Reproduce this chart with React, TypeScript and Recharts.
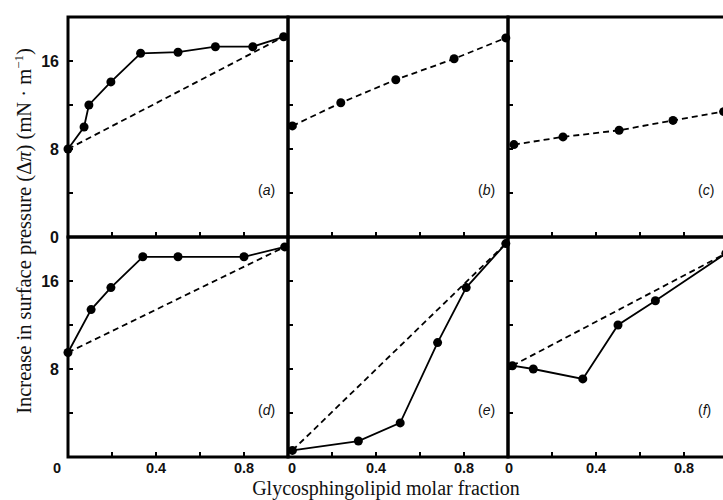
import React from "react";
import { LineChart, Line, XAxis, YAxis, ReferenceArea } from "recharts";

// ---------- data ----------
const aX = [0, 0.073, 0.095, 0.195, 0.33, 0.5, 0.67, 0.84, 0.98];
const aY = [8, 10, 12, 14.1, 16.7, 16.8, 17.3, 17.3, 18.2];
const bX = [0.02, 0.24, 0.49, 0.755, 0.99];
const bY = [10.1, 12.2, 14.3, 16.2, 18.1];
const cX = [0.027, 0.25, 0.505, 0.75, 0.98];
const cY = [8.4, 9.1, 9.7, 10.6, 11.4];
const dX = [0, 0.105, 0.195, 0.34, 0.5, 0.8, 0.985];
const dY = [9.5, 13.4, 15.4, 18.2, 18.2, 18.2, 19.1];
const eX = [0.02, 0.32, 0.51, 0.68, 0.81, 0.99];
const eY = [0.6, 1.45, 3.1, 10.4, 15.4, 19.4];
const fX = [0.02, 0.115, 0.34, 0.5, 0.67, 0.99];
const fY = [8.3, 8.0, 7.1, 12.0, 14.2, 18.5];

const xTicks = [0, 0.2, 0.4, 0.6, 0.8];
const yTicks = [0, 4, 8, 12, 16];
const xTickLabels: Record<string, string> = { "0": "0", "0.4": "0.4", "0.8": "0.8" };
const yTickLabelsTop: Record<string, string> = { "0": "0", "8": "8", "16": "16" };
const yTickLabelsBottom: Record<string, string> = { "8": "8", "16": "16" };
const panelLetters = ["a", "b", "c", "d", "e", "f"];

const toPts = (xs: number[], ys: number[]) => xs.map((x, i) => ({ x, y: ys[i] }));
const ends = (xs: number[], ys: number[]) => [
  { x: xs[0], y: ys[0] },
  { x: xs[xs.length - 1], y: ys[ys.length - 1] },
];

// ---------- layout ----------
const BOX = 220;
const ML = 45, MR = 10, MT = 10, MB = 30;
const TICK_FONT = "'Liberation Sans', Arial, sans-serif";
const SERIF = "'Liberation Serif', 'Times New Roman', serif";

type PanelProps = {
  left: number;
  top: number;
  letter: string;
  solid?: { x: number; y: number }[];
  dashed: { x: number; y: number }[];
  dashedDots?: boolean;
  xLabels: boolean;
  zeroShift: number;
  yLabels: Record<string, string> | null;
};

const dot = { r: 4.5, fill: "#000", stroke: "#000", strokeWidth: 0 };

function Panel(p: PanelProps) {
  const XTick = (props: any) => {
    const { x, y, payload } = props;
    const v = payload.value;
    const key = String(v);
    const lab = p.xLabels ? xTickLabels[key] : undefined;
    return (
      <g>
        {v !== 0 && <line x1={x} y1={y} x2={x} y2={y - 5} stroke="#000" strokeWidth={2} />}
        {lab && (
          <text
            x={v === 0 ? x + p.zeroShift : x}
            y={y + 16}
            textAnchor="middle"
            fontFamily={TICK_FONT}
            fontSize={14.5}
            fontWeight="bold"
            fill="#111"
          >
            {lab}
          </text>
        )}
      </g>
    );
  };
  const YTick = (props: any) => {
    const { x, y, payload } = props;
    const v = payload.value;
    const lab = p.yLabels ? p.yLabels[String(v)] : undefined;
    return (
      <g>
        {v !== 0 && <line x1={x} y1={y} x2={x + 5} y2={y} stroke="#000" strokeWidth={2} />}
        {lab && (
          <text
            x={x - 9}
            y={y}
            textAnchor="end"
            dominantBaseline="central"
            fontFamily={TICK_FONT}
            fontSize={16}
            fontWeight="bold"
            fill="#111"
          >
            {lab}
          </text>
        )}
      </g>
    );
  };
  return (
    <div style={{ position: "absolute", left: p.left - ML, top: p.top - MT }}>
      <LineChart
        width={BOX + ML + MR}
        height={BOX + MT + MB}
        margin={{ left: ML - 1, right: MR, top: MT, bottom: MB - 1 }}
        style={{ overflow: "visible" }}
      >
        <XAxis
          dataKey="x"
          type="number"
          domain={[0, 1]}
          ticks={xTicks}
          height={1}
          tickSize={0}
          tickMargin={0}
          axisLine={false}
          tickLine={false}
          tick={<XTick />}
          interval={0}
        />
        <YAxis
          dataKey="y"
          type="number"
          domain={[0, 20]}
          ticks={yTicks}
          width={1}
          tickSize={0}
          tickMargin={0}
          axisLine={false}
          tickLine={false}
          tick={<YTick />}
          interval={0}
        />
        <ReferenceArea x1={0} x2={1} y1={0} y2={20} fill="none" stroke="#000" strokeWidth={3} />
        <Line
          data={p.dashed}
          dataKey="y"
          type="linear"
          stroke="#000"
          strokeWidth={1.8}
          strokeDasharray="6 4"
          dot={p.dashedDots ? dot : false}
          isAnimationActive={false}
        />
        {p.solid && (
          <Line
            data={p.solid}
            dataKey="y"
            type="linear"
            stroke="#000"
            strokeWidth={1.8}
            dot={dot}
            isAnimationActive={false}
          />
        )}
      </LineChart>
      <div
        style={{
          position: "absolute",
          left: ML + 190,
          top: MT + 165,
          fontFamily: TICK_FONT,
          fontSize: 14,
          color: "#111",
          whiteSpace: "nowrap",
        }}
      >
        (<i>{p.letter}</i>)
      </div>
    </div>
  );
}

export default function App() {
  return (
    <div
      style={{
        position: "fixed",
        left: 0,
        top: 0,
        width: 723,
        height: 500,
        overflow: "hidden",
        background: "#fff",
      }}
    >
      <Panel left={68} top={17} letter={panelLetters[0]} solid={toPts(aX, aY)} dashed={ends(aX, aY)} xLabels={false} zeroShift={0} yLabels={yTickLabelsTop} />
      <Panel left={288} top={17} letter={panelLetters[1]} dashed={toPts(bX, bY)} dashedDots xLabels={false} zeroShift={0} yLabels={null} />
      <Panel left={508} top={17} letter={panelLetters[2]} dashed={toPts(cX, cY)} dashedDots xLabels={false} zeroShift={0} yLabels={null} />
      <Panel left={68} top={237} letter={panelLetters[3]} solid={toPts(dX, dY)} dashed={ends(dX, dY)} xLabels zeroShift={-11} yLabels={yTickLabelsBottom} />
      <Panel left={288} top={237} letter={panelLetters[4]} solid={toPts(eX, eY)} dashed={ends(eX, eY)} xLabels zeroShift={4} yLabels={null} />
      <Panel left={508} top={237} letter={panelLetters[5]} solid={toPts(fX, fY)} dashed={ends(fX, fY)} xLabels zeroShift={1} yLabels={null} />
      <svg width={723} height={500} style={{ position: "absolute", left: 0, top: 0, pointerEvents: "none" }}>
        <text
          transform="translate(31,231) rotate(-90)"
          textAnchor="middle"
          fontFamily={SERIF}
          fontSize={20.5}
          fill="#111"
        >
          Increase in surface pressure (Δ<tspan fontStyle="italic">π</tspan>) (mN · m
          <tspan dy={-8} fontSize={13}>−1</tspan>
          <tspan dy={8}>)</tspan>
        </text>
        <text x={386} y={495} textAnchor="middle" fontFamily={SERIF} fontSize={20} fill="#111">
          Glycosphingolipid molar fraction
        </text>
      </svg>
    </div>
  );
}
